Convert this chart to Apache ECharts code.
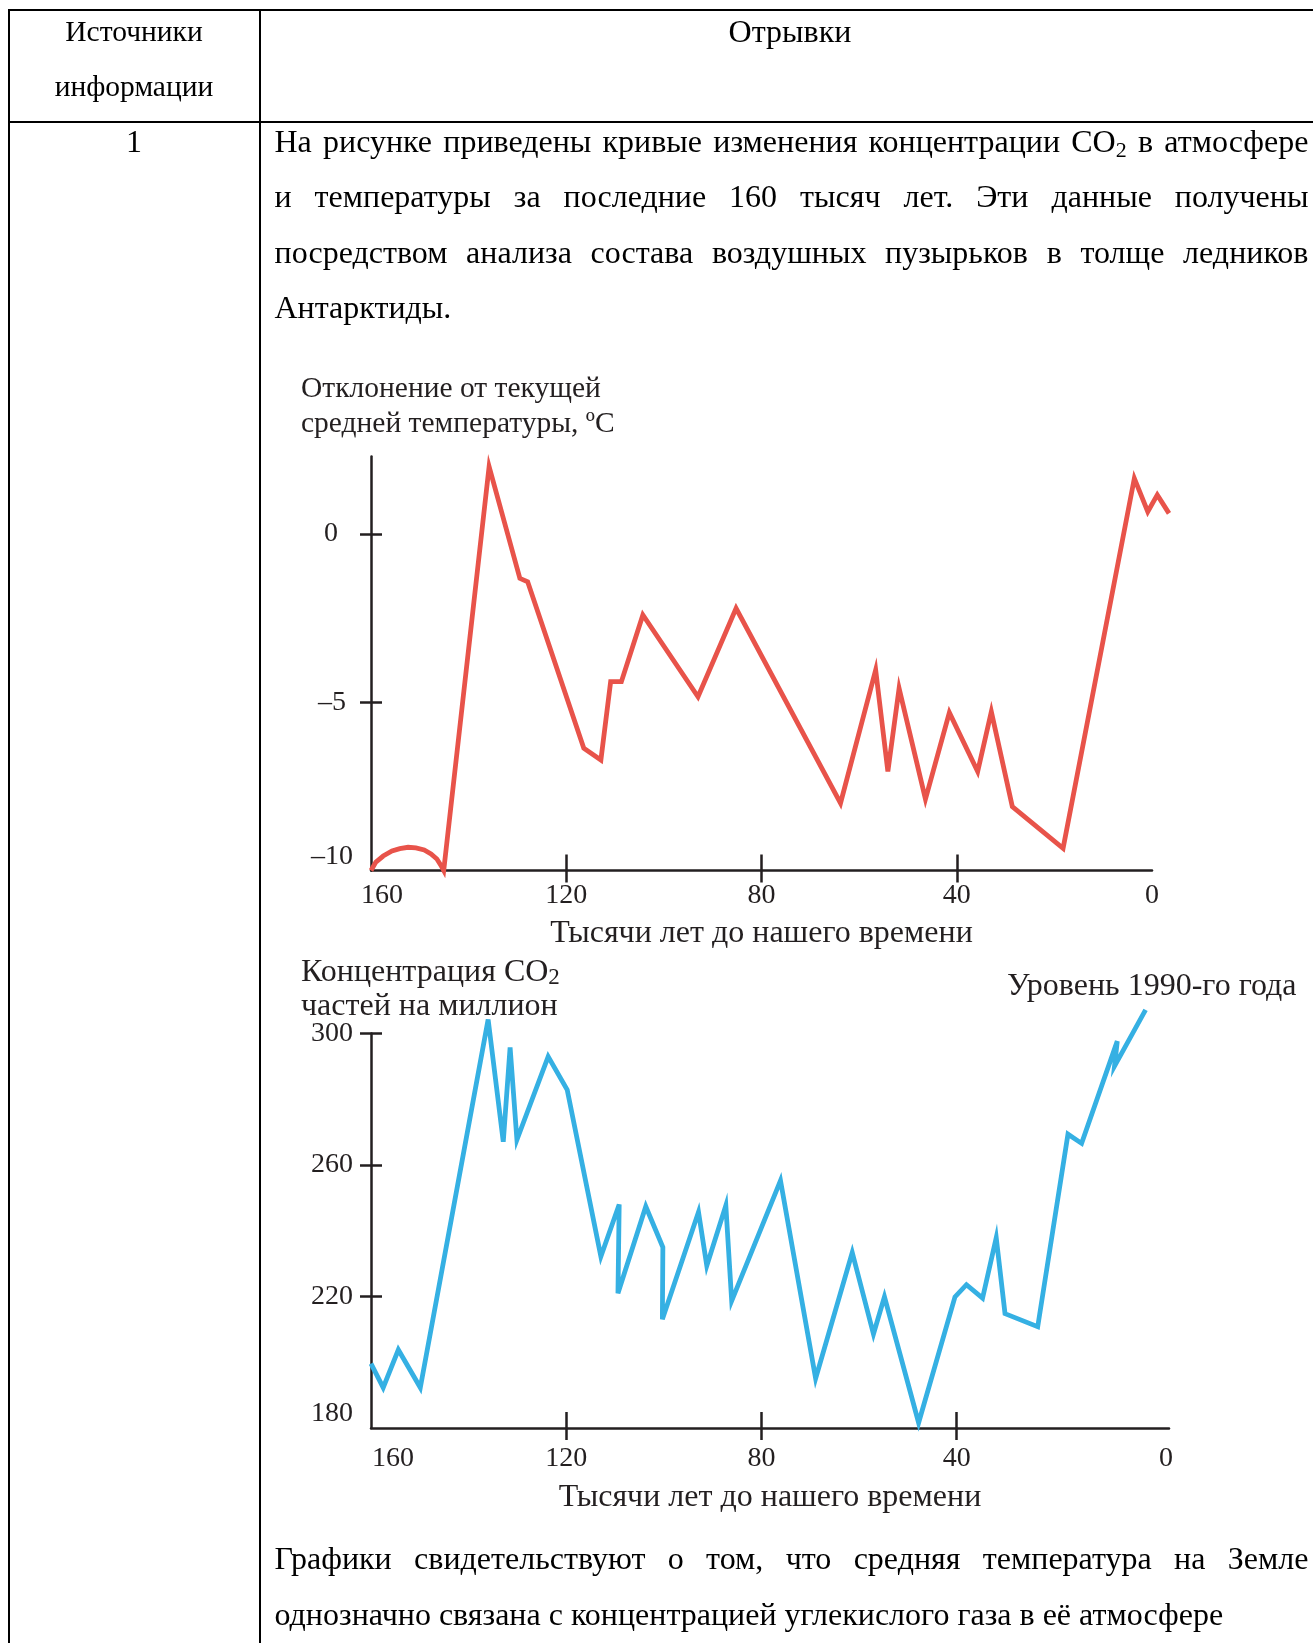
<!DOCTYPE html>
<html>
<head>
<meta charset="utf-8">
<script src="https://cdn.jsdelivr.net/npm/echarts@6/dist/echarts.min.js"></script>
<style>
  html, body { margin: 0; padding: 0; background: #fff; }
  body { width: 1313px; height: 1643px; position: relative; overflow: hidden;
         font-family: 'Liberation Serif', 'Times New Roman', serif; color: #000; }
  #chart { position: absolute; left: 0; top: 0; width: 1313px; height: 1643px; }
  .rule { position: absolute; background: #000; }
  .cell { position: absolute; font-size: 32px; line-height: 55.5px; text-align: center; white-space: nowrap; }
  .narrow { font-size: 29.5px; }
  .line { position: absolute; height: 55.5px; font-size: 32px; line-height: 55.5px; white-space: pre; display: flex; }
  .sub { font-size: 22px; line-height: 0; position: relative; top: 5px; }
</style>
</head>
<body>
<div id="chart"></div>

<!-- table frame -->
<div class="rule" style="left:8px;top:9px;width:1305px;height:2px"></div>
<div class="rule" style="left:8px;top:121px;width:1305px;height:2px"></div>
<div class="rule" style="left:7.5px;top:9px;width:2px;height:1634px"></div>
<div class="rule" style="left:258.5px;top:9px;width:2px;height:1634px"></div>

<div class="cell narrow" style="left:9px;top:3.5px;width:250px">Источники<br>информации</div>
<div class="cell" style="left:260px;top:3.5px;width:1060px">Отрывки</div>
<div class="cell" style="left:9px;top:113.5px;width:250px">1</div>

<div id="text"></div>

<script>
// ---- tick values ----
const yearTicks = [0, 40, 80, 120, 160];
const yearMarks = [40, 80, 120];
const tempLabels = [-10, -5, 0];
const tempMarks = [-5, 0];
const co2Labels = [180, 220, 260, 300];
const co2Marks = [220, 260, 300];

// ---- temperature deviation, °C (thousand years before present) ----
const tempYears = [160, 159.0, 157.5, 155.7, 154.1, 152.4, 150.8, 149.1, 147.7, 146.5, 145.7, 145.1,
                   135.8, 129.5, 127.9, 116.4, 112.9, 110.9, 108.7, 104.3, 93.0, 85.2,
                   63.8, 56.6, 54.1, 51.8, 46.4, 41.5, 35.7, 32.9, 28.6, 18.2,
                   3.6, 0.85, -1.1, -3.5];
const tempValues = [-10, -9.75, -9.57, -9.42, -9.35, -9.31, -9.33, -9.39, -9.51, -9.66, -9.84, -10,
                    2.0, -1.32, -1.42, -6.37, -6.72, -4.39, -4.39, -2.41, -4.84, -2.21,
                    -8.0, -4.04, -7.06, -4.59, -7.88, -5.31, -7.06, -5.28, -8.1, -9.34,
                    1.65, 0.66, 1.16, 0.61];

// ---- CO2 concentration, ppm ----
const co2Years = [160, 157.5, 154.4, 149.9, 136.0, 132.9, 131.5, 130.1, 123.7, 119.8,
                  112.9, 109.15, 109.4, 103.7, 100.2, 100.3, 92.9, 91.2, 87.3, 86.1,
                  76.1, 68.9, 61.4, 57.05, 54.8, 47.8, 40.35, 38.0, 34.7, 31.9,
                  30.1, 23.4, 17.2, 14.4, 7.1, 7.66, 1.3];
const co2Values = [199.6, 192.3, 203.8, 192.3, 304.3, 267.1, 295.8, 267.7, 293.0, 282.9,
                   232.2, 248.0, 221.0, 247.4, 235.0, 213.1, 245.7, 229.4, 247.7, 218.7,
                   255.3, 195.1, 233.4, 208.6, 219.9, 181.6, 219.9, 223.6, 219.5, 237.9,
                   214.8, 210.8, 269.4, 266.6, 297.7, 290.1, 307.2];

// ---- passage text ----
const introLines = [
  ['На рисунке приведены кривые изменения концентрации CO2 в атмосфере', true],
  ['и температуры за последние 160 тысяч лет. Эти данные получены', true],
  ['посредством анализа состава воздушных пузырьков в толще ледников', true],
  ['Антарктиды.', false]
];
const outroLines = [
  ['Графики свидетельствуют о том, что средняя температура на Земле', true],
  ['однозначно связана с концентрацией углекислого газа в её атмосфере', false]
];

const TEXT_LEFT = 274.5, TEXT_WIDTH = 1034, LINE_H = 55.5;
const holder = document.getElementById('text');
function wordNode(w) {
  const s = document.createElement('span');
  if (w === 'CO2') {
    s.appendChild(document.createTextNode('CO'));
    const sub = document.createElement('span');
    sub.className = 'sub';
    sub.textContent = '2';
    s.appendChild(sub);
  } else {
    s.textContent = w;
  }
  return s;
}
function addLines(lines, top) {
  lines.forEach(([txt, justify], i) => {
    const d = document.createElement('div');
    d.className = 'line';
    d.style.left = TEXT_LEFT + 'px';
    d.style.top = (top + i * LINE_H) + 'px';
    d.style.width = TEXT_WIDTH + 'px';
    if (justify) {
      d.style.justifyContent = 'space-between';
      txt.split(' ').forEach(w => d.appendChild(wordNode(w)));
    } else {
      d.textContent = txt;
    }
    holder.appendChild(d);
  });
}
addLines(introLines, 113.5);
addLines(outroLines, 1531);

// ---- charts ----
const INK = '#231f20';
const FONT = "'Liberation Serif', 'Times New Roman', serif";
const AXIS_LINE = { color: INK, width: 2.5 };
const pairs = (xs, ys) => xs.map((x, i) => [x, ys[i]]);
const dash = v => (v < 0 ? '–' + (-v) : String(v));
const tickText = { color: INK, fontSize: 28, fontFamily: FONT };

// year axis with the "160" (and optionally "0") label nudged right of its tick
function yearAxis(grid, min, margin, nameGap, padFirst, padLast) {
  return {
    gridIndex: grid, type: 'value', inverse: true, min: min, max: 160, position: 'bottom',
    axisLine: { show: true, onZero: false, lineStyle: AXIS_LINE },
    axisTick: { show: true, inside: true, length: 16, customValues: yearMarks, lineStyle: AXIS_LINE },
    axisLabel: Object.assign({
      show: true, customValues: yearTicks, margin: margin,
      formatter: v => (v === 160 ? '{p|160}' : v === 0 && padLast ? '{q|0}' : String(v)),
      rich: {
        p: Object.assign({ padding: [0, 0, 0, padFirst] }, tickText),
        q: Object.assign({ padding: [0, 0, 0, padLast || 0] }, tickText)
      }
    }, tickText),
    splitLine: { show: false },
    name: 'Тысячи лет до нашего времени', nameLocation: 'middle', nameGap: nameGap,
    nameTextStyle: { color: INK, fontSize: 32, fontFamily: FONT }
  };
}
function yearTickUnder(grid, min) {
  return {
    gridIndex: grid, type: 'value', inverse: true, min: min, max: 160, position: 'bottom',
    axisLine: { show: false, onZero: false },
    axisTick: { show: true, inside: false, length: 12, customValues: yearMarks, lineStyle: AXIS_LINE },
    axisLabel: { show: false }, splitLine: { show: false }
  };
}
// value axis; padRight maps a label value to extra right padding (shifts it left)
function valueAxis(grid, min, max, labels, marks, margin, padRight) {
  const rich = {};
  Object.keys(padRight).forEach((k, i) => {
    rich['r' + i] = Object.assign({ padding: [0, padRight[k], 0, 0] }, tickText);
  });
  return {
    gridIndex: grid, type: 'value', min: min, max: max, position: 'left',
    axisLine: { show: true, onZero: false, lineStyle: AXIS_LINE },
    axisTick: { show: true, inside: false, length: 11, customValues: marks, lineStyle: AXIS_LINE },
    axisLabel: Object.assign({ show: true, customValues: labels, margin: margin,
                 verticalAlignMinLabel: 'bottom', rich: rich,
                 formatter: v => {
                   const i = Object.keys(padRight).indexOf(String(v));
                   return i < 0 ? dash(v) : '{r' + i + '|' + dash(v) + '}';
                 } }, tickText),
    splitLine: { show: false }
  };
}
function valueTickInside(grid, min, max, marks) {
  return {
    gridIndex: grid, type: 'value', min: min, max: max, position: 'left',
    axisLine: { show: false, onZero: false },
    axisTick: { show: true, inside: true, length: 11, customValues: marks, lineStyle: AXIS_LINE },
    axisLabel: { show: false }, splitLine: { show: false }
  };
}
function hiddenAxis(grid, min, max, inverse) {
  return { gridIndex: grid, type: 'value', min: min, max: max, inverse: inverse, show: false,
           axisLine: { onZero: false }, splitLine: { show: false } };
}

const plain = (size, lh) => ({ fontSize: size, lineHeight: lh, color: INK, fontFamily: FONT, fontWeight: 'normal' });

const chart = echarts.init(document.getElementById('chart'), null, { renderer: 'canvas' });
chart.setOption({
  animation: false,
  backgroundColor: 'transparent',
  title: [
    { left: 301, top: 371, padding: 0, text: 'Отклонение от текущей\nсредней температуры, ºC',
      textStyle: plain(29.5, 35.5) },
    { left: 301, top: 955, padding: 0,
      text: '{a|Концентрация CO}{s|2}\n{a|частей на миллион}',
      textStyle: Object.assign(plain(32, 34), {
        rich: {
          a: Object.assign(plain(32, 34), { verticalAlign: 'bottom' }),
          s: Object.assign(plain(23, 20), { verticalAlign: 'bottom' })
        } }) },
    { left: 1007, top: 970, padding: 0, text: 'Уровень 1990-го года', textStyle: plain(32, 34) }
  ],
  grid: [
    // temperature axes
    { left: 371, top: 456.5, width: 781, height: 414, containLabel: false, outerBoundsMode: 'none' },
    // CO2 axes
    { left: 371, top: 1033.6, width: 798, height: 394.4, containLabel: false, outerBoundsMode: 'none' },
    // temperature curve frame: same scale as grid 0, reaching a little past the present
    { left: 371, top: 456.5, width: 798, height: 414, containLabel: false, outerBoundsMode: 'none' }
  ],
  xAxis: [
    yearAxis(0, 0, 11, 47, 22, 0),
    yearTickUnder(0, 0),
    yearAxis(1, -3.5, 17, 54, 44, 28),
    yearTickUnder(1, -3.5),
    hiddenAxis(2, -3.5, 160, true)
  ],
  yAxis: [
    valueAxis(0, -10, 2.3, tempLabels, tempMarks, 18, { '0': 15, '-5': 7 }),
    valueTickInside(0, -10, 2.3, tempMarks),
    valueAxis(1, 180, 300, co2Labels, co2Marks, 18, {}),
    valueTickInside(1, 180, 300, co2Marks),
    hiddenAxis(2, -10, 2.3, false)
  ],
  series: [
    { type: 'line', name: 'temperature', xAxisIndex: 4, yAxisIndex: 4,
      data: pairs(tempYears, tempValues), symbol: 'none', clip: false, silent: true,
      lineStyle: { color: '#e8534a', width: 4.8, join: 'miter', miterLimit: 6 } },
    { type: 'line', name: 'co2', xAxisIndex: 2, yAxisIndex: 2,
      data: pairs(co2Years, co2Values), symbol: 'none', clip: false, silent: true,
      lineStyle: { color: '#35b0e3', width: 4.8, join: 'miter', miterLimit: 6 } }
  ]
});
</script>
</body>
</html>
